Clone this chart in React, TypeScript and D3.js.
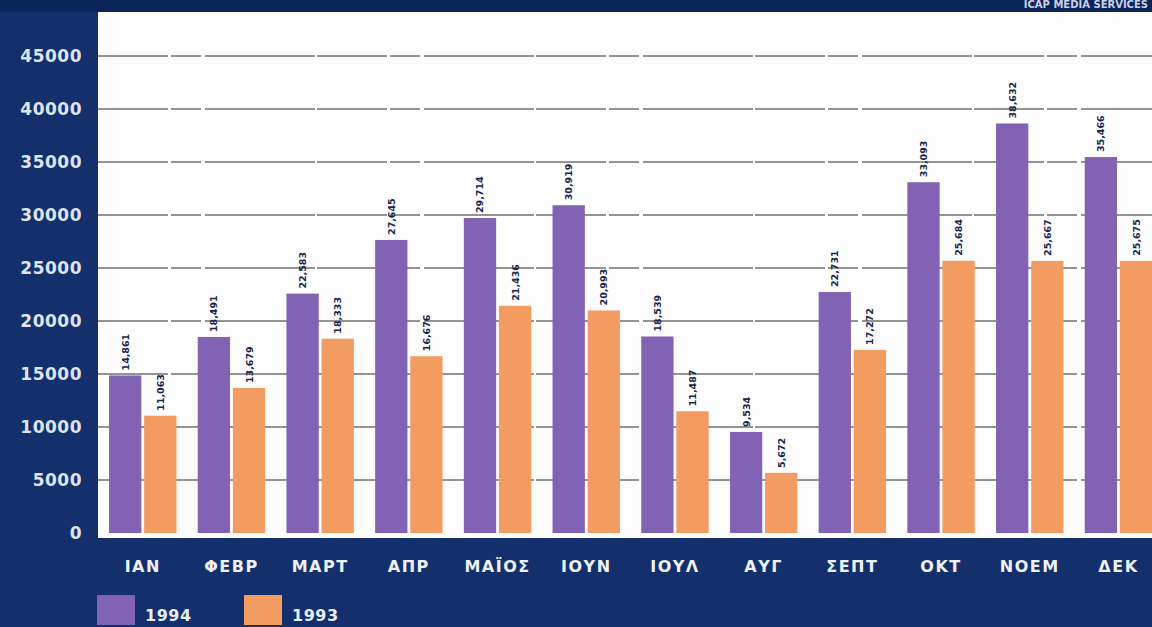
import React from 'react';
import * as d3 from 'd3';

// months (Greek abbreviations) and the two yearly series
const months = ['ΙΑΝ', 'ΦΕΒΡ', 'ΜΑΡΤ', 'ΑΠΡ', 'ΜΑΪΟΣ', 'ΙΟΥΝ', 'ΙΟΥΛ', 'ΑΥΓ', 'ΣΕΠΤ', 'ΟΚΤ', 'ΝΟΕΜ', 'ΔΕΚ'];
const years = ['1994', '1993'];
const values1994 = [14861, 18491, 22583, 27645, 29714, 30919, 18539, 9534, 22731, 33093, 38632, 35466];
const values1993 = [11063, 13679, 18333, 16676, 21436, 20993, 11487, 5672, 17272, 25684, 25667, 25675];
const yTicks = [0, 5000, 10000, 15000, 20000, 25000, 30000, 35000, 40000, 45000];

const W = 1152;
const H = 627;
const plot = { left: 98, right: 1152, top: 12, bottom: 538 };
const colors: Record<string, string> = { '1994': '#8262b4', '1993': '#f39c62' };
const navy = '#13306c';

const App = () => {
  const x = d3.scaleBand<string>().domain(months).range([98.4, 98.4 + 12 * 88.7]).paddingInner(0.24).paddingOuter(0.12);
  const xi = d3.scaleBand<string>().domain(years).range([0, x.bandwidth()]).paddingInner(0.08);
  const y = d3.scaleLinear().domain([0, 45000]).range([533, 56]);
  const fmt = d3.format(',');

  const rows = months.map((m, i) => ({ month: m, vals: [
    { year: '1994', v: values1994[i] },
    { year: '1993', v: values1993[i] },
  ] }));

  return (
    <svg width={W} height={H} style={{ position: 'absolute', left: 0, top: 0 }} fontFamily="DejaVu Sans, sans-serif">
      <defs>
        <clipPath id="plotclip">
          <rect x={plot.left} y={plot.top} width={plot.right - plot.left} height={plot.bottom - plot.top} />
        </clipPath>
      </defs>
      <rect width={W} height={H} fill={navy} />
      <rect width={W} height={12} fill="#0b245a" />
      <text x={1148} y={8} textAnchor="end" fontSize={10} fontWeight="bold" fill="#c9d2e6">
        ICAP MEDIA SERVICES
      </text>
      <rect x={plot.left} y={plot.top} width={plot.right - plot.left} height={plot.bottom - plot.top} fill="#fdfdfd" />

      {/* gridlines */}
      {yTicks.map((t) => (
        <g key={t}>
          <line x1={plot.left} x2={plot.right} y1={y(t)} y2={y(t)} stroke="#151515" strokeWidth={1} strokeDasharray="70 3 30 4 110 2" opacity={t === 0 ? 0 : 0.9} />
          <text x={82} y={y(t) + 6} textAnchor="end" fontSize={17} fontWeight="bold" fill="#dde3ef" letterSpacing={0.5}>
            {t}
          </text>
        </g>
      ))}

      {/* bars */}
      <g clipPath="url(#plotclip)">
        {rows.map((r) => (
          <g key={r.month} transform={`translate(${x(r.month)},0)`}>
            {r.vals.map((d) => (
              <g key={d.year}>
                <rect x={xi(d.year)} y={y(d.v)} width={xi.bandwidth()} height={y(0) - y(d.v)} fill={colors[d.year]} />
                <text
                  transform={`translate(${(xi(d.year) ?? 0) + xi.bandwidth() / 2 + 3.5},${y(d.v) - 5}) rotate(-90)`}
                  fontSize={9.5}
                  fontWeight="bold"
                  fill="#16234d"
                >
                  {fmt(d.v)}
                </text>
              </g>
            ))}
          </g>
        ))}
      </g>

      {/* month labels */}
      {months.map((m) => (
        <text key={m} x={(x(m) ?? 0) + x.bandwidth() / 2} y={572} textAnchor="middle" fontSize={16} fontWeight="bold" fill="#eef1f8" letterSpacing={1.5}>
          {m}
        </text>
      ))}

      {/* legend */}
      {years.map((yr, i) => (
        <g key={yr} transform={`translate(${97 + i * 147},595)`}>
          <rect width={38} height={30} fill={colors[yr]} />
          <text x={48} y={26} fontSize={16} fontWeight="bold" fill="#e8ecf5" letterSpacing={0.5}>
            {yr}
          </text>
        </g>
      ))}
    </svg>
  );
};

export default App;
